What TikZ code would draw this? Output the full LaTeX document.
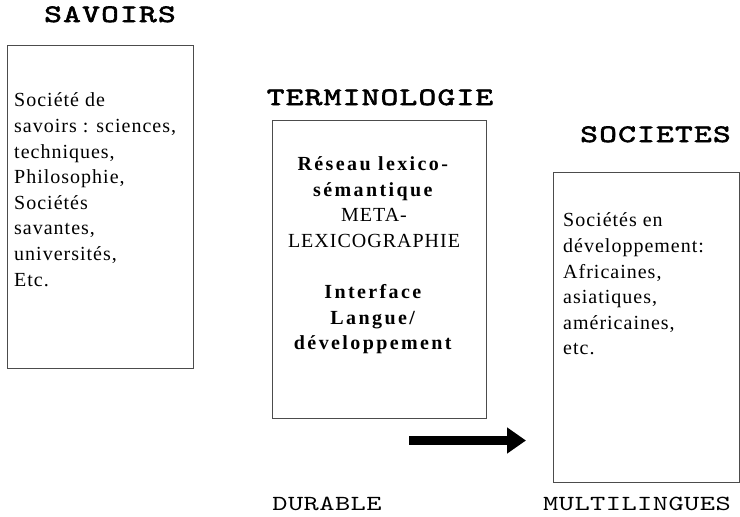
\documentclass[tikz,border=0pt]{standalone}
\usepackage{fontspec}
\setmainfont{Liberation Serif}[LetterSpace=5, BoldFeatures={LetterSpace=12}]
\newfontfamily\titlefont{lmmono10-regular.otf}[FakeStretch=1.35, FakeBold=2.5, LetterSpace=5]
\newfontfamily\tagfont{lmmono10-regular.otf}[FakeStretch=1.35, LetterSpace=2]
\usepackage{tikz}
\usetikzlibrary{arrows.meta}
\definecolor{frameline}{gray}{0.3}

\begin{document}
\begin{tikzpicture}[x=1pt, y=-1pt,
frame/.style={rectangle, draw=frameline, line width=1pt, inner sep=0pt},
title/.style={anchor=base, inner sep=0pt, font=\titlefont\fontsize{25}{25}\selectfont},
tag/.style={anchor=base, inner sep=0pt, font=\tagfont\fontsize{21.5}{21.5}\selectfont},
body/.style={inner sep=0pt, font=\fontsize{20}{25.6}\selectfont}]
  \useasboundingbox (0,0) rectangle (740,517);
  % savoirs
  \node[title] (tsav) at (110,22) {SAVOIRS};
  \node[frame, minimum width=186pt, minimum height=323pt] (bsav) at (100,206.5) {};
  \node[body, anchor=north west, align=left] (xsav) at (14,92.8)
    {Société de\\savoirs : sciences,\\techniques,\\Philosophie,\\Sociétés\\savantes,\\universités,\\Etc.};
  % terminologie
  \node[title] (tter) at (380,105) {TERMINOLOGIE};
  \node[frame, minimum width=214pt, minimum height=298pt] (bter) at (379,269) {};
  \node[body, anchor=north, align=center] (xter) at (374,156.5)
    {\textbf{Réseau lexico-}\\\textbf{sémantique}\\META-\\LEXICOGRAPHIE\\[25.6pt]
     \textbf{Interface}\\\textbf{Langue/}\\\textbf{développement}};
  % societes
  \node[title] (tsoc) at (655.5,142) {SOCIETES};
  \node[frame, minimum width=186pt, minimum height=310pt] (bsoc) at (646,327) {};
  \node[body, anchor=north west, align=left] (xsoc) at (563,212.8)
    {Sociétés en\\développement:\\Africaines,\\asiatiques,\\américaines,\\etc.};
  % bottom
  \node[tag] (tdur) at (327,510) {DURABLE};
  \node[tag] (tmul) at (637,510) {MULTILINGUES};

  \coordinate (as) at (409,440.5);
  \coordinate (ae) at (526,440.5);
  \draw[line width=9pt, -{Triangle[length=19pt, width=25pt]}] (as) -- (ae);
\end{tikzpicture}
\end{document}
